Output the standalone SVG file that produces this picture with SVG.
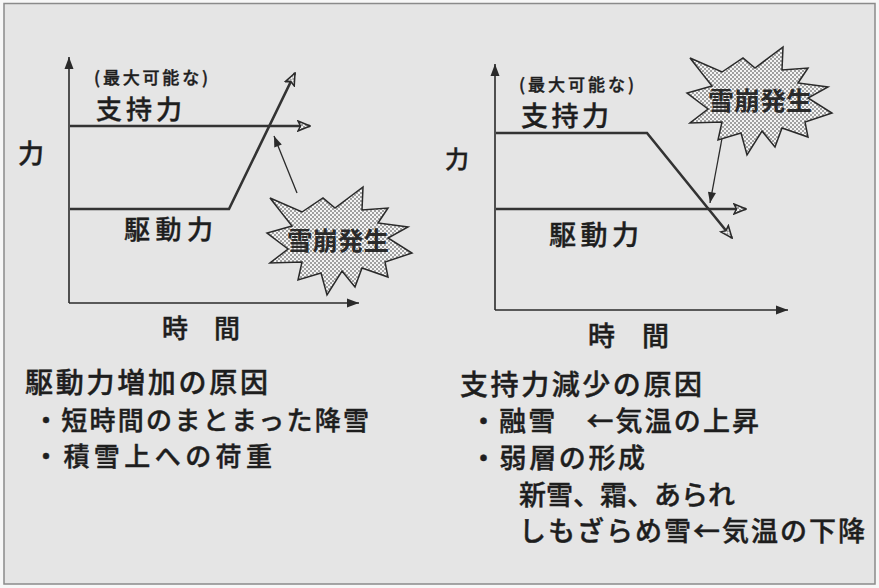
<svg xmlns="http://www.w3.org/2000/svg" width="879" height="588" viewBox="0 0 879 588">
  <style>
    .t { font-family: "Noto Sans CJK JP", "Noto Sans", sans-serif; font-weight: 500; fill: #1e1e1e; stroke: #1e1e1e; stroke-width: 0.4; }
    .axis { stroke: #2a2a2a; stroke-width: 1.6; fill: none; }
    .force { stroke: #333; stroke-width: 2.6; fill: none; }
    .ptr { stroke: #2a2a2a; stroke-width: 1.3; fill: none; }
    .burst { fill: url(#dots); stroke: #2a2a2a; stroke-width: 1.5; stroke-linejoin: miter; }
    .bt { font-family: "Noto Sans CJK JP", sans-serif; font-weight: 700; fill: #2a2a2a; }
  </style>
  <defs>
    <pattern id="dots" width="4" height="4" patternUnits="userSpaceOnUse">
      <rect width="4" height="4" fill="#f4f4f4"/>
      <circle cx="1" cy="1" r="0.75" fill="#222"/>
      <circle cx="3" cy="3" r="0.75" fill="#222"/>
    </pattern>
    <marker id="solid" viewBox="0 0 12 10" refX="12" refY="5" markerWidth="12" markerHeight="10" markerUnits="userSpaceOnUse" orient="auto">
      <path d="M0,0.5 L12,5 L0,9.5 Z" fill="#2a2a2a"/>
    </marker>
    <marker id="ptrhead" viewBox="0 0 12 10" refX="12" refY="5" markerWidth="12" markerHeight="9" markerUnits="userSpaceOnUse" orient="auto">
      <path d="M0,0.5 L12,5 L0,9.5 Z" fill="#2a2a2a"/>
    </marker>
    <marker id="open" viewBox="0 0 14 12" refX="13" refY="6" markerWidth="14" markerHeight="12" markerUnits="userSpaceOnUse" orient="auto">
      <path d="M1,1 L13,6 L1,11 L3.5,6 Z" fill="url(#dots)" stroke="#2a2a2a" stroke-width="1.5" stroke-linejoin="miter"/>
    </marker>
    <path id="star" d="M270,198 L302,212 L323,198 L335,208 L363,187 L362,210 L388,208 L378,223 L408,227 L388,238 L412,253 L385,262 L388,277 L362,268 L355,287 L342,271 L327,295 L321,273 L298,280 L302,262 L270,263 L288,249 L267,233 L292,226 Z"/>
  </defs>

  <rect x="0" y="0" width="879" height="588" fill="#f7f7f7"/>
  <rect x="4" y="3.5" width="871" height="580.5" fill="#e5e5e5" stroke="#8a8a8a" stroke-width="1.5"/>

  <!-- Left chart -->
  <g id="left-chart">
    <g id="left-axes">
      <path class="axis" d="M69,303 V57" marker-end="url(#solid)"/>
      <path class="axis" d="M69,303 H359" marker-end="url(#solid)"/>
    </g>
    <text class="t" x="18" y="163" font-size="26">力</text>
    <text class="t" x="162" y="338" font-size="26">時　間</text>
    <text class="t" x="94" y="84" font-size="17" textLength="114" lengthAdjust="spacing">(最大可能な)</text>
    <text class="t" x="96" y="119" font-size="26" textLength="86" lengthAdjust="spacing">支持力</text>
    <text class="t" x="124" y="239" font-size="26" textLength="89" lengthAdjust="spacing">駆動力</text>
  </g>

  <!-- Right chart -->
  <g id="right-chart">
    <g id="right-axes">
      <path class="axis" d="M495,310 V64" marker-end="url(#solid)"/>
      <path class="axis" d="M495,310 H788" marker-end="url(#solid)"/>
    </g>
    <text class="t" x="445" y="168" font-size="24">力</text>
    <text class="t" x="588" y="346" font-size="27">時　間</text>
    <text class="t" x="519" y="91" font-size="17" textLength="115" lengthAdjust="spacing">(最大可能な)</text>
    <text class="t" x="521" y="126" font-size="27" textLength="88" lengthAdjust="spacing">支持力</text>
    <text class="t" x="549" y="245" font-size="27" textLength="90" lengthAdjust="spacing">駆動力</text>
  </g>

  <!-- Connectors -->
  <g id="connectors">
    <path class="force" d="M70,126 H310" marker-end="url(#open)"/>
    <path class="force" d="M70,209 H229 L295,73" marker-end="url(#open)"/>
    <path class="ptr" d="M297,193 L274,136" marker-end="url(#ptrhead)"/>
    <path class="force" d="M496,133 H647 L732,238" marker-end="url(#open)"/>
    <path class="force" d="M496,209 H746" marker-end="url(#open)"/>
    <path class="ptr" d="M723,133 L710,203" marker-end="url(#ptrhead)"/>
  </g>

  <!-- Starbursts -->
  <g id="burst-left">
    <use href="#star" class="burst"/>
    <text class="bt" x="338" y="250" font-size="25" text-anchor="middle" textLength="102" lengthAdjust="spacingAndGlyphs">雪崩発生</text>
  </g>
  <g id="burst-right" transform="translate(420,-140)">
    <use href="#star" class="burst"/>
    <text class="bt" x="340" y="250" font-size="25" text-anchor="middle" textLength="104" lengthAdjust="spacingAndGlyphs">雪崩発生</text>
  </g>

  <!-- Bottom left text -->
  <g id="text-left">
    <text class="t" x="25" y="393" font-size="28" textLength="243" lengthAdjust="spacing">駆動力増加の原因</text>
    <text class="t" x="33" y="430" font-size="26" textLength="336" lengthAdjust="spacing">・短時間のまとまった降雪</text>
    <text class="t" x="33" y="466" font-size="26" textLength="239" lengthAdjust="spacing">・積雪上への荷重</text>
  </g>

  <!-- Bottom right text -->
  <g id="text-right">
    <text class="t" x="460" y="395" font-size="28" textLength="242" lengthAdjust="spacing">支持力減少の原因</text>
    <text class="t" x="470" y="431" font-size="27" textLength="289" lengthAdjust="spacing">・融雪　←気温の上昇</text>
    <text class="t" x="470" y="468" font-size="27" textLength="175" lengthAdjust="spacing">・弱層の形成</text>
    <text class="t" x="519" y="505" font-size="27" textLength="216" lengthAdjust="spacing">新雪、霜、あられ</text>
    <text class="t" x="519" y="541" font-size="27" textLength="346" lengthAdjust="spacing">しもざらめ雪←気温の下降</text>
  </g>
</svg>
